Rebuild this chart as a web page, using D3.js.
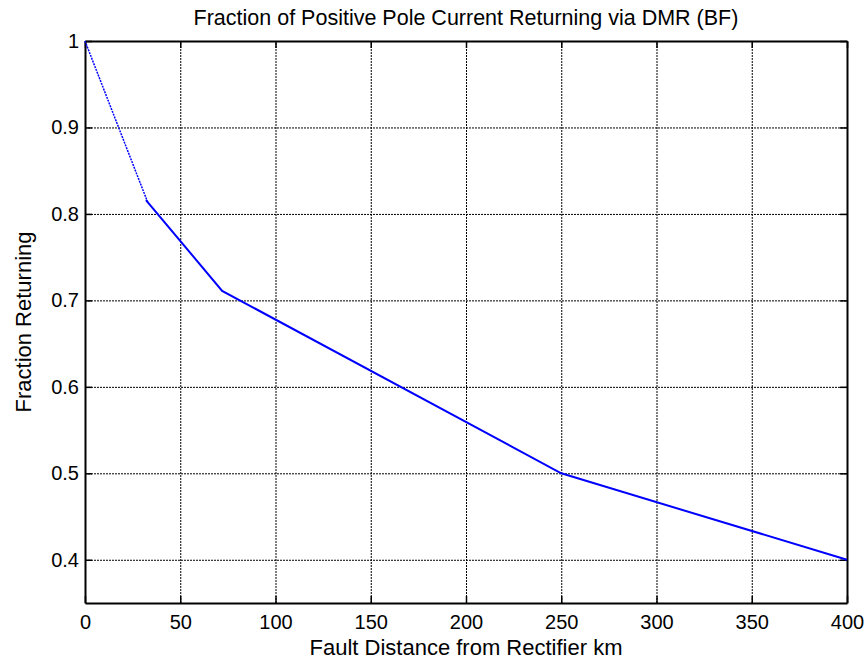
<!DOCTYPE html>
<html lang="en">
<head>
    <meta charset="UTF-8">
    <title>Fraction of Positive Pole Current Returning via DMR (BF)</title>
    <script src="https://d3js.org/d3.v7.min.js"></script>
    <style>
        body { margin: 0; background: #fff; }
        text { font-family: Arial, "Liberation Sans", sans-serif; fill: #000; }
    </style>
</head>
<body>
    <div id="chart"></div>

    <script>
        // Data
        const distStart = [0, 33];
        const fracStart = [1.0, 0.813];
        const distMain = [32, 72, 250, 400];
        const fracMain = [0.816, 0.711, 0.5, 0.4];
        const xTicks = [0, 50, 100, 150, 200, 250, 300, 350, 400];
        const yTicks = [0.4, 0.5, 0.6, 0.7, 0.8, 0.9, 1];

        const width = 867;
        const height = 661;
        const margin = { top: 41, right: 20, bottom: 58, left: 85 };

        const svg = d3.select("#chart")
            .append("svg")
            .attr("width", width)
            .attr("height", height);

        const xScale = d3.scaleLinear()
            .domain([0, 400])
            .range([margin.left, width - margin.right]);

        const yScale = d3.scaleLinear()
            .domain([0.35, 1])
            .range([height - margin.bottom, margin.top]);

        const x0 = margin.left, x1 = width - margin.right;
        const y0 = height - margin.bottom, y1 = margin.top;

        // Grid
        svg.append("g")
            .selectAll("line")
            .data(xTicks)
            .enter()
            .append("line")
            .attr("x1", d => xScale(d) + 0.5)
            .attr("x2", d => xScale(d) + 0.5)
            .attr("y1", y0)
            .attr("y2", y1)
            .attr("stroke", "#000")
            .attr("stroke-dasharray", "2,1");

        svg.append("g")
            .selectAll("line")
            .data(yTicks)
            .enter()
            .append("line")
            .attr("x1", x0)
            .attr("x2", x1)
            .attr("y1", d => yScale(d) + 0.5)
            .attr("y2", d => yScale(d) + 0.5)
            .attr("stroke", "#000")
            .attr("stroke-dasharray", "2,1");

        // Axes with inward ticks
        svg.append("g")
            .attr("transform", `translate(0,${y0})`)
            .call(d3.axisBottom(xScale).tickValues(xTicks).tickSizeInner(-7).tickSizeOuter(0).tickPadding(12));
        svg.append("g")
            .attr("transform", `translate(${x0},0)`)
            .call(d3.axisLeft(yScale).tickValues(yTicks).tickSizeInner(-7).tickSizeOuter(0).tickPadding(6)
                .tickFormat(d => d === 1 ? "1" : d3.format(".1f")(d)));
        svg.append("g")
            .attr("transform", `translate(0,${y1})`)
            .call(d3.axisTop(xScale).tickValues(xTicks).tickSizeInner(-7).tickSizeOuter(0).tickFormat(""));
        svg.append("g")
            .attr("transform", `translate(${x1},0)`)
            .call(d3.axisRight(yScale).tickValues(yTicks).tickSizeInner(-7).tickSizeOuter(0).tickFormat(""));

        svg.selectAll(".domain").attr("stroke", "#000").attr("stroke-width", 2);
        svg.selectAll(".tick line").attr("stroke", "#000").attr("stroke-width", 1.5);
        svg.selectAll(".tick text").style("font-size", "20px").style("font-family", "Arial, 'Liberation Sans', sans-serif");

        // Lines
        const line = d3.line()
            .x(d => xScale(d[0]))
            .y(d => yScale(d[1]));

        svg.append("path")
            .datum(d3.zip(distStart, fracStart))
            .attr("fill", "none")
            .attr("stroke", "#0000ff")
            .attr("stroke-width", 1.5)
            .attr("stroke-dasharray", "2,1")
            .attr("d", line);

        svg.append("path")
            .datum(d3.zip(distMain, fracMain))
            .attr("fill", "none")
            .attr("stroke", "#0000ff")
            .attr("stroke-width", 2)
            .attr("d", line);

        // Title and labels
        svg.append("text")
            .attr("x", (x0 + x1) / 2)
            .attr("y", 25)
            .attr("text-anchor", "middle")
            .style("font-size", "21.5px")
            .text("Fraction of Positive Pole Current Returning via DMR (BF)");

        svg.append("text")
            .attr("x", (x0 + x1) / 2)
            .attr("y", 655)
            .attr("text-anchor", "middle")
            .style("font-size", "22px")
            .text("Fault Distance from Rectifier km");

        svg.append("text")
            .attr("transform", `translate(31,${(y0 + y1) / 2}) rotate(-90)`)
            .attr("text-anchor", "middle")
            .style("font-size", "22px")
            .text("Fraction Returning");
    </script>
</body>
</html>
